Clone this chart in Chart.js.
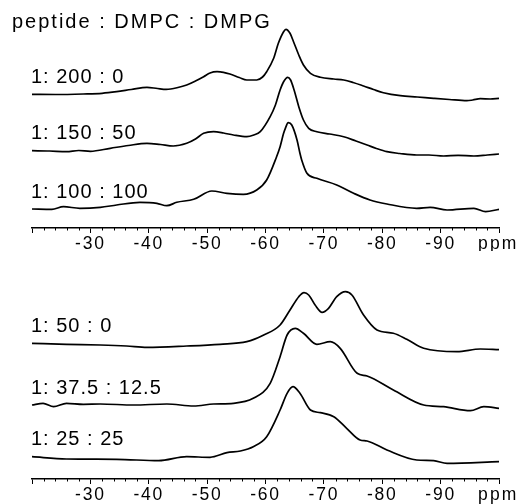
<!DOCTYPE html>
<html>
<head>
<meta charset="utf-8">
<script src="https://cdn.jsdelivr.net/npm/chart.js@4.4.0/dist/chart.umd.min.js"></script>
<style>
body { margin: 0; background: #fff; width: 522px; height: 504px; overflow: hidden; }
.panel { position: absolute; left: 0; width: 522px; }
</style>
</head>
<body>
<div class="panel" style="top:0;height:251px"><canvas id="upper" width="522" height="251"></canvas></div>
<div class="panel" style="top:251px;height:253px"><canvas id="lower" width="522" height="253"></canvas></div>
<script>
// spectra: chemical shift (ppm) and intensity (arb. units, 0 = left baseline)
var ppm_200_0 = [-20, -24, -28.8, -32, -34.5, -37, -39.7, -41.5, -43, -45, -46.5, -48, -49.4, -50.5, -51.7, -52.8, -53.9, -55.5, -56.8, -58.5, -59.5, -60.2, -61.4, -62.2, -63.1, -63.5, -64.2, -64.8, -65.7, -66.5, -67.7, -69.4, -71.7, -73.4, -75, -76.8, -78.5, -80.2, -83.1, -86, -88.8, -91.5, -94.5, -95.5, -96.8, -98.5, -100];
var int_200_0 = [0, -0.2, 0.3, 1.0, 2.6, 4.8, 7.0, 5.8, 5.0, 6.8, 9.3, 13.3, 17.6, 21.3, 22.6, 22.0, 20.3, 16.8, 14.3, 14.3, 17.3, 22.6, 36.0, 51.0, 62.6, 65.0, 61.0, 52.6, 39.3, 29.3, 21.0, 17.0, 15.3, 14.3, 11.8, 8.3, 4.8, 1.6, -1.4, -2.7, -4.0, -5.2, -6.4, -5.7, -4.4, -4.7, -4.0];

var ppm_150_50 = [-20, -23, -25.9, -28, -30, -33.4, -36.5, -39.7, -42, -44.2, -46.5, -48, -49.4, -51.1, -52.8, -54.5, -56.8, -58, -59.1, -60.8, -61.7, -62.5, -63.1, -63.8, -64.3, -64.9, -65.7, -66.5, -67.4, -68.8, -71, -73.4, -75.5, -77.4, -79, -80.8, -83, -85.9, -88, -90.5, -93, -95.7, -98, -100];
var int_150_50 = [0, -0.3, -1.0, 0.2, -0.6, 2.4, 5.2, 7.4, 6.2, 4.7, 7.4, 11.7, 17.4, 19.0, 17.7, 15.7, 14.0, 15.7, 19.0, 34.0, 45.7, 60.7, 69.0, 73.4, 70.7, 60.7, 44.0, 30.7, 22.4, 19.0, 16.7, 14.0, 9.7, 5.7, 2.2, -1.0, -2.8, -4.3, -4.3, -5.3, -4.6, -5.3, -4.3, -3.3];

var ppm_100_100 = [-20, -23.4, -25.4, -28.2, -31.7, -34.5, -38.5, -41.4, -43.1, -44.8, -47.7, -50.8, -53.4, -56.2, -58.5, -60.2, -61.9, -62.5, -63.1, -63.4, -63.9, -64.5, -65.4, -65.9, -66.2, -67.1, -68.8, -72.2, -75.1, -77.9, -80.8, -85.9, -88.2, -91.1, -95.7, -97.7, -100];
var int_100_100 = [0, -0.3, 2.3, 0.7, 1.7, 4.0, 6.7, 5.7, 3.3, 6.7, 9.7, 18.0, 15.7, 14.7, 19.0, 29.0, 52.3, 62.3, 75.7, 80.7, 86.3, 84.0, 69.0, 55.7, 49.0, 35.7, 30.7, 24.0, 15.7, 9.0, 5.0, 0.7, 1.7, -1.0, 0.7, -2.7, -0.3];

var ppm_50_0 = [-20, -25.9, -31.7, -36.2, -39.7, -46.5, -52.2, -56.8, -59.7, -62.5, -64.2, -65.7, -66.6, -67.4, -68.5, -69.7, -70.8, -72.2, -73.7, -74.8, -76.8, -79.1, -81.9, -84.2, -87.1, -92.8, -96.8, -100];
var int_50_0 = [0, -1.0, -1.7, -2.7, -4.0, -2.7, -1.0, 1.6, 8.3, 18.3, 33.3, 46.6, 50.6, 48.3, 38.3, 31.0, 35.0, 46.6, 51.6, 48.3, 28.3, 13.3, 10.0, 4.0, -5.0, -8.4, -5.7, -6.4];

var ppm_375_125 = [-20, -21.9, -23.7, -25.9, -28.8, -31.7, -37.4, -43.1, -47.7, -51.1, -54.5, -57.9, -60.8, -62.5, -63.7, -65.1, -66.5, -68.8, -71.1, -72.8, -75.7, -77.4, -81.9, -87.1, -90.5, -95.1, -97.4, -100];
var int_375_125 = [0, 1.7, -1.7, 1.7, 0.7, 1.0, 0, 1.0, -1.0, 1.0, 1.7, 6.7, 21.7, 48.3, 70.0, 76.7, 71.7, 60.7, 63.3, 56.7, 31.7, 29.0, 15.0, 0, -1.7, -5.7, -1.7, -3.3];

var ppm_25_25 = [-20, -25.9, -34.5, -41.7, -46.5, -50.5, -53.4, -55.7, -57.9, -60.2, -62.5, -63.7, -64.7, -65.9, -67.7, -69.4, -71.7, -73.9, -76.2, -77.4, -80.8, -85.9, -88.8, -91.1, -100];
var int_25_25 = [0, -2.3, -2.6, -4.0, 0, -0.6, 4.0, 5.7, 10.0, 20.0, 46.7, 63.4, 70.0, 63.4, 46.7, 44.0, 40.0, 28.4, 16.7, 15.7, 6.7, -3.3, -4.0, -6.6, -5.0];

var upperLabels = ['1: 200 : 0', '1: 150 : 50', '1: 100 : 100'];
var lowerLabels = ['1: 50 : 0', '1: 37.5 : 12.5', '1: 25 : 25'];
var titleText = 'peptide : DMPC : DMPG';
var xTicksMajor = [-30, -40, -50, -60, -70, -80, -90];

// vertical stacking of the traces inside each panel
var upperOffsets = [133.7, 77.3, 19.0];
var lowerOffsets = [135.7, 74.0, 22.3];

var FONT = '"Liberation Sans", Arial, Helvetica, sans-serif';

function makeSeries(ppm, inten, off) {
    var pts = [];
    for (var i = 0; i < ppm.length; i++) {
        pts.push({ x: ppm[i], y: inten[i] + off });
    }
    return {
        data: pts,
        borderColor: '#000',
        borderWidth: 1.7,
        pointRadius: 0,
        fill: false,
        cubicInterpolationMode: 'monotone',
        clip: false
    };
}

var textPlugin = {
    id: 'nmrText',
    beforeDraw: function (chart) {
        chart.ctx.letterSpacing = '1.8px';
    },
    afterDraw: function (chart, args, opts) {
        var ctx = chart.ctx;
        var xs = chart.scales.x, ys = chart.scales.y;
        ctx.save();
        // minor ticks every 2 ppm
        ctx.strokeStyle = '#000';
        ctx.lineWidth = 1;
        xs.ticks.forEach(function (t) {
            if (t.value % 10 !== 0) {
                var px = Math.round(xs.getPixelForValue(t.value)) + 0.5;
                ctx.beginPath();
                ctx.moveTo(px, xs.top);
                ctx.lineTo(px, xs.top + 2.5);
                ctx.stroke();
            }
        });
        ctx.fillStyle = '#000';
        ctx.textBaseline = 'alphabetic';
        ctx.textAlign = 'left';
        ctx.letterSpacing = '1px';
        ctx.font = '20px ' + FONT;
        opts.labels.forEach(function (lab, i) {
            ctx.fillText(lab, 31, ys.getPixelForValue(opts.offsets[i]) - 11.5);
        });
        if (opts.title) {
            ctx.letterSpacing = '2px';
            ctx.fillText(opts.title, 12, 28);
        }
        ctx.letterSpacing = '2.2px';
        ctx.font = '17.5px ' + FONT;
        ctx.fillText('ppm', 478, xs.top + 20.5);
        ctx.restore();
        ctx.letterSpacing = '0px';
    }
};

function makeChart(id, series, labels, offsets, title, axisH) {
    var ds = [];
    for (var i = 0; i < series.length; i++) {
        ds.push(makeSeries(series[i][0], series[i][1], offsets[i]));
    }
    return new Chart(document.getElementById(id).getContext('2d'), {
        type: 'line',
        data: { datasets: ds },
        options: {
            responsive: false,
            animation: false,
            devicePixelRatio: 1,
            layout: { padding: { left: 32, right: 23, top: 0, bottom: 0 } },
            plugins: {
                legend: { display: false },
                tooltip: { enabled: false },
                nmrText: { labels: labels, offsets: offsets, title: title }
            },
            scales: {
                x: {
                    type: 'linear',
                    min: -100,
                    max: -20,
                    reverse: true,
                    afterFit: function (scale) { scale.height = axisH; },
                    border: { display: true, color: '#000', width: 1.5 },
                    grid: {
                        drawOnChartArea: false,
                        tickLength: 5,
                        tickWidth: 1,
                        tickColor: function (c) {
                            return (c.tick && c.tick.value % 10 === 0) ? '#000' : 'rgba(0,0,0,0)';
                        }
                    },
                    ticks: {
                        stepSize: 2,
                        autoSkip: false,
                        maxRotation: 0,
                        padding: 1,
                        color: '#000',
                        font: { family: FONT, size: 17.5 },
                        callback: function (v) {
                            return xTicksMajor.indexOf(v) >= 0 ? String(v) : '';
                        }
                    }
                },
                y: { display: false, min: 0, max: 228 }
            }
        },
        plugins: [textPlugin]
    });
}

makeChart('upper', [[ppm_200_0, int_200_0], [ppm_150_50, int_150_50], [ppm_100_100, int_100_100]],
    upperLabels, upperOffsets, titleText, 23);
makeChart('lower', [[ppm_50_0, int_50_0], [ppm_375_125, int_375_125], [ppm_25_25, int_25_25]],
    lowerLabels, lowerOffsets, null, 25);
</script>
</body>
</html>
